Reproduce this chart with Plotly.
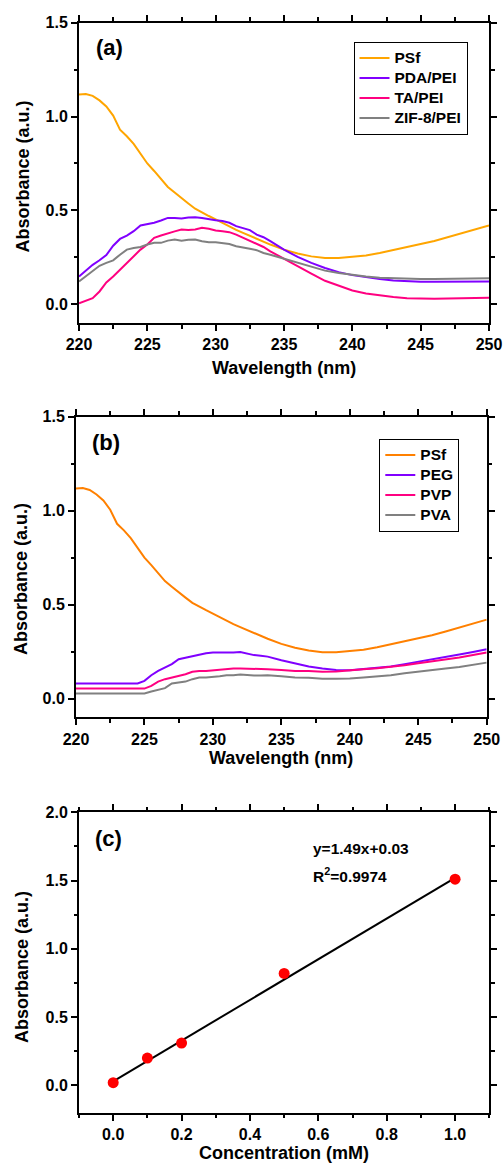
import plotly.graph_objects as go

# ---------------- Data ----------------
wavelength = [220, 220.5, 221, 221.5, 222, 222.5, 223, 223.5, 224, 224.5,
              225, 225.5, 226, 226.5, 227, 227.5, 228, 228.5, 229, 229.5,
              230, 230.5, 231, 231.5, 232, 232.5, 233, 233.5, 234,
              235, 236, 237, 238, 239, 240, 241, 242, 243, 244, 245,
              246, 247, 248, 249, 250]

psf = [1.118, 1.12, 1.11, 1.086, 1.054, 1.005, 0.93, 0.895, 0.854, 0.80,
       0.75, 0.71, 0.666, 0.625, 0.595, 0.568, 0.537, 0.509, 0.488, 0.47,
       0.452, 0.432, 0.412, 0.396, 0.38, 0.364, 0.348, 0.333, 0.318,
       0.291, 0.27, 0.255, 0.246, 0.246, 0.252, 0.26, 0.273, 0.288, 0.304, 0.321,
       0.337, 0.357, 0.377, 0.398, 0.42]

pda_pei = [0.148, 0.18, 0.21, 0.234, 0.262, 0.312, 0.348, 0.366, 0.389, 0.42,
           0.427, 0.434, 0.446, 0.46, 0.459, 0.457, 0.462, 0.464, 0.46, 0.452,
           0.448, 0.443, 0.434, 0.416, 0.407, 0.395, 0.371, 0.357, 0.336,
           0.291, 0.252, 0.22, 0.193, 0.171, 0.155, 0.143, 0.134, 0.127, 0.123, 0.12,
           0.12, 0.12, 0.12, 0.121, 0.121]

ta_pei = [0.005, 0.018, 0.032, 0.068, 0.116, 0.148, 0.184, 0.22, 0.259, 0.291,
          0.318, 0.354, 0.366, 0.375, 0.388, 0.398, 0.395, 0.398, 0.407, 0.402,
          0.393, 0.389, 0.384, 0.371, 0.354, 0.336, 0.321, 0.305, 0.282,
          0.241, 0.202, 0.163, 0.125, 0.098, 0.073, 0.057, 0.046, 0.038, 0.032, 0.029,
          0.029, 0.03, 0.032, 0.034, 0.034]

zif8_pei = [0.121, 0.148, 0.175, 0.205, 0.22, 0.234, 0.264, 0.291, 0.30, 0.305,
            0.318, 0.327, 0.327, 0.339, 0.345, 0.338, 0.343, 0.345, 0.336, 0.33,
            0.33, 0.327, 0.321, 0.309, 0.304, 0.296, 0.288, 0.273, 0.264,
            0.243, 0.22, 0.198, 0.179, 0.166, 0.155, 0.148, 0.141, 0.138, 0.134, 0.134,
            0.134, 0.136, 0.138, 0.139, 0.139]

peg = [0.08, 0.08, 0.08, 0.08, 0.08, 0.08, 0.08, 0.08, 0.08, 0.08,
       0.094, 0.124, 0.147, 0.165, 0.183, 0.209, 0.218, 0.227, 0.236, 0.241,
       0.245, 0.244, 0.243, 0.245, 0.248, 0.238, 0.231, 0.228, 0.223,
       0.204, 0.188, 0.17, 0.16, 0.152, 0.151, 0.156, 0.161, 0.17, 0.183, 0.195,
       0.209, 0.222, 0.234, 0.248, 0.262]

pvp = [0.053, 0.053, 0.053, 0.053, 0.053, 0.053, 0.053, 0.053, 0.053, 0.053,
       0.053, 0.067, 0.09, 0.103, 0.112, 0.117, 0.129, 0.142, 0.147, 0.147,
       0.151, 0.156, 0.16, 0.16, 0.16, 0.16, 0.16, 0.158, 0.156,
       0.152, 0.147, 0.147, 0.142, 0.144, 0.151, 0.156, 0.161, 0.168, 0.177, 0.188,
       0.197, 0.207, 0.218, 0.232, 0.245]

pva = [0.027, 0.027, 0.027, 0.027, 0.027, 0.027, 0.027, 0.027, 0.027, 0.027,
       0.027, 0.037, 0.044, 0.055, 0.08, 0.085, 0.09, 0.103, 0.112, 0.112,
       0.113, 0.118, 0.124, 0.124, 0.128, 0.125, 0.122, 0.123, 0.124,
       0.119, 0.112, 0.11, 0.105, 0.105, 0.106, 0.112, 0.119, 0.124, 0.135, 0.142,
       0.151, 0.16, 0.168, 0.181, 0.191]

concentration = [0.0, 0.1, 0.2, 0.5, 1.0]
absorbance_c = [0.02, 0.20, 0.31, 0.82, 1.51]
fit_slope = 1.49
fit_intercept = 0.03
fit_x = [0.0, 1.0]
r_squared = "0.9974"

labels_a = ["PSf", "PDA/PEI", "TA/PEI", "ZIF-8/PEI"]
labels_b = ["PSf", "PEG", "PVP", "PVA"]

# ---------------- Styles ----------------
FONT = "Liberation Sans, Arial, sans-serif"
W, H = 504, 1165
OFF = 0  # body margin is removed below so the figure fills the page

c_psf_a = "#FFA500"
c_psf_b = "#FF8000"
c_purple = "#8000FF"
c_pink = "#FF0080"
c_gray = "#808080"

LEGEND_TEXT_SIZE = 15.5


def legend_name(label):
    return f'<span style="font-size:{LEGEND_TEXT_SIZE}px">{label}</span>'


fig = go.Figure()

series_a = [psf, pda_pei, ta_pei, zif8_pei]
colors_a = [c_psf_a, c_purple, c_pink, c_gray]
for name, ys, col in zip(labels_a, series_a, colors_a):
    fig.add_trace(go.Scatter(x=wavelength, y=ys, mode="lines", name=legend_name(name),
                             line=dict(color=col, width=2),
                             xaxis="x", yaxis="y", legend="legend"))

series_b = [psf, peg, pvp, pva]
colors_b = [c_psf_b, c_purple, c_pink, c_gray]
for name, ys, col in zip(labels_b, series_b, colors_b):
    fig.add_trace(go.Scatter(x=wavelength, y=ys, mode="lines", name=legend_name(name),
                             line=dict(color=col, width=2),
                             xaxis="x2", yaxis="y2", legend="legend2"))

fit_y = [fit_slope * v + fit_intercept for v in fit_x]
fig.add_trace(go.Scatter(x=fit_x, y=fit_y, mode="lines", showlegend=False,
                         line=dict(color="black", width=2), xaxis="x3", yaxis="y3"))
fig.add_trace(go.Scatter(x=concentration, y=absorbance_c, mode="markers", showlegend=False,
                         marker=dict(color="#FF0000", size=11), xaxis="x3", yaxis="y3"))


def tfont(size):
    return dict(family=FONT, size=size, color="black", weight="bold")


def axis_common(domain, rng, dtick, minor_dtick, anchor, tick0, fmt):
    return dict(domain=domain, range=rng, anchor=anchor, showgrid=False, zeroline=False,
                showline=True, linecolor="black", linewidth=2, mirror="ticks",
                ticks="outside", ticklen=6, tickwidth=1.5, tickcolor="black",
                dtick=dtick, tick0=tick0, tickformat=fmt, automargin=False,
                minor=dict(dtick=minor_dtick, tick0=tick0, ticks="outside", ticklen=3.5,
                           tickwidth=1.5, tickcolor="black", showgrid=False),
                tickfont=tfont(16))


def px_x(x):
    return (x - OFF) / W


def px_y(y):
    return 1 - (y - OFF) / H


def dom_x(l, r):
    return [px_x(l), px_x(r)]


def dom_y(top, bottom):
    return [px_y(bottom), px_y(top)]


fig.update_layout(
    width=W, height=H,
    margin=dict(l=0, r=0, t=0, b=0, autoexpand=False),
    paper_bgcolor="white", plot_bgcolor="white",
    font=dict(family=FONT, color="black"),
    xaxis=axis_common(dom_x(79, 489), [220, 250], 5, 2.5, "y", 220, "d"),
    yaxis=axis_common(dom_y(22.7, 323), [-0.1, 1.5], 0.5, 0.25, "x", 0, ".1f"),
    xaxis2=axis_common(dom_x(76, 486.7), [220, 250], 5, 2.5, "y2", 220, "d"),
    yaxis2=axis_common(dom_y(416.7, 717.3), [-0.1, 1.5], 0.5, 0.25, "x2", 0, ".1f"),
    xaxis3=axis_common(dom_x(79, 489.3), [-0.1, 1.1], 0.2, 0.1, "y3", 0, ".1f"),
    yaxis3=axis_common(dom_y(812.3, 1112.7), [-0.2, 2.0], 0.5, 0.25, "x3", 0, ".1f"),
    legend=dict(x=px_x(353.5), y=px_y(42), xanchor="left", yanchor="top",
                bordercolor="black", borderwidth=1, bgcolor="white",
                font=tfont(13.1), itemwidth=30, tracegroupgap=0),
    legend2=dict(x=px_x(379.3), y=px_y(439), xanchor="left", yanchor="top",
                 bordercolor="black", borderwidth=1, bgcolor="white",
                 font=tfont(13.1), itemwidth=30, tracegroupgap=0),
)


# axis titles (positioned in page pixels)
def add_title(text, x_px, y_px, angle=0):
    fig.add_annotation(text=text, xref="paper", yref="paper", x=px_x(x_px), y=px_y(y_px),
                       xanchor="center", yanchor="middle", textangle=angle,
                       showarrow=False, font=tfont(18))


add_title("Wavelength (nm)", 284, 368)
add_title("Absorbance (a.u.)", 22.5, 177, -90)
add_title("Wavelength (nm)", 281, 758)
add_title("Absorbance (a.u.)", 21, 579, -90)
add_title("Concentration (mM)", 284, 1153)
add_title("Absorbance (a.u.)", 22, 967, -90)

panel_font = tfont(22)
fig.add_annotation(text="(a)", xref="x domain", yref="y domain", x=0.036, y=0.919,
                   xanchor="left", yanchor="middle", showarrow=False, font=panel_font)
fig.add_annotation(text="(b)", xref="x2 domain", yref="y2 domain", x=0.034, y=0.9135,
                   xanchor="left", yanchor="middle", showarrow=False, font=panel_font)
fig.add_annotation(text="(c)", xref="x3 domain", yref="y3 domain", x=0.034, y=0.9144,
                   xanchor="left", yanchor="middle", showarrow=False, font=panel_font)

fig.add_annotation(text=f"y={fit_slope}x+{fit_intercept}", xref="x3", yref="y3",
                   x=0.578, y=1.734, xanchor="left", yanchor="middle",
                   showarrow=False, font=tfont(15.5))
fig.add_annotation(text=f"R<sup>2</sup>={r_squared}", xref="x3", yref="y3",
                   x=0.578, y=1.54, xanchor="left", yanchor="middle",
                   showarrow=False, font=tfont(15.5))

fig.write_html("out.html",
               config={"displayModeBar": False},
               post_script="document.body.style.margin='0';"
                           "document.body.style.overflow='hidden';")
